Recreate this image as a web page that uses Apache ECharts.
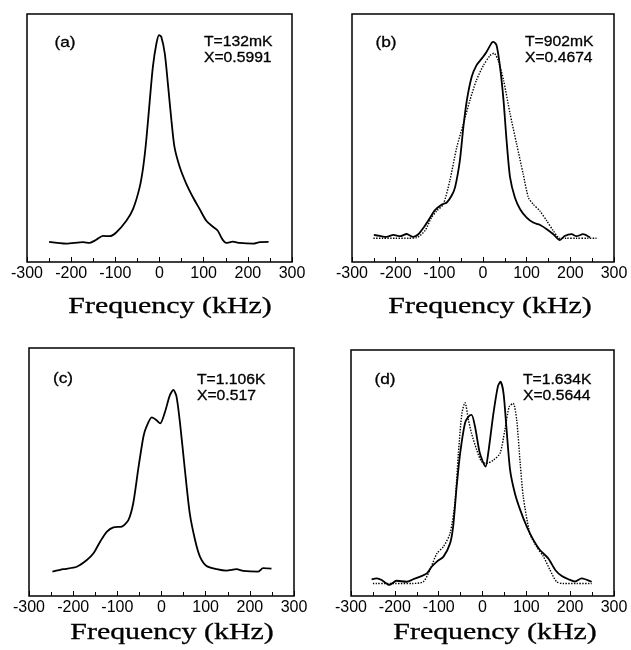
<!DOCTYPE html>
<html>
<head>
<meta charset="utf-8">
<script src="https://cdn.jsdelivr.net/npm/echarts@6/dist/echarts.min.js"></script>
<style>
  html, body { margin: 0; padding: 0; background: #fff; }
  #spectra { width: 631px; height: 650px; }
</style>
</head>
<body>
<div id="spectra"></div>
<script>
// (a) T=132mK
const freqA = [-250, -211, -173, -158, -143, -128, -113, -98, -75, -60, -45, -37, -30, -22, -15, -7, -1, 4, 12, 19, 27, 34, 46, 61, 76, 91, 106, 121, 132, 140, 145, 151, 166, 181, 212, 227, 247]
const solidA = [8.1, 7.4, 8.0, 7.7, 9.0, 10.5, 10.4, 11.9, 16.6, 21.3, 30.1, 38.2, 49, 65.2, 78.7, 88.1, 91.5, 90.8, 84, 71.9, 57.1, 46.3, 38.2, 31.4, 26, 21.3, 16.6, 14.2, 12.6, 9.9, 8.5, 7.7, 8.2, 7.7, 7.4, 8.0, 8.1]

// (b) T=902mK
const freqB = [-250, -236, -221, -205, -190, -175, -160, -148, -133, -121, -110, -95, -83, -72, -64, -53, -45, -37, -26, -15, -3, 8, 20, 24, 31, 39, 47, 54, 62, 73, 85, 100, 115, 130, 146, 161, 176, 187, 203, 214, 229, 245]
const solidB = [10.9, 10.5, 10.1, 10.9, 10.4, 11.3, 10.1, 11.2, 14.6, 17.9, 20.9, 23.1, 24.0, 26.7, 30.1, 40.9, 54.4, 65.2, 74.6, 79.3, 82, 84.7, 88.4, 88.8, 87.4, 78.7, 65.2, 49, 34.1, 26, 21.3, 17.9, 15.9, 15, 13.2, 11.2, 8.8, 10.5, 11.2, 10.4, 11.2, 9.9]
const freqBDot = [-251, -230, -200, -170, -152, -133, -118, -106, -91, -76, -60, -45, -30, -15, 1, 16, 25, 35, 47, 62, 77, 92, 104, 115, 130, 146, 161, 176, 191, 214, 240, 260]
const dottedB = [9.6, 9.6, 9.6, 9.6, 9.8, 12.6, 17.9, 20.6, 23.3, 32.8, 46.3, 55.7, 65.2, 73.3, 79.3, 83.2, 84.2, 81.2, 73.3, 59.8, 47.6, 35.5, 26, 23.3, 20.6, 16.6, 12.6, 9.6, 9.6, 9.6, 9.6, 9.6]

// (c) T=1.106K
const freqC = [-247, -222, -192, -169, -154, -139, -124, -109, -90, -75, -64, -53, -41, -34, -22, -12, -3, 8, 19, 27, 34, 42, 53, 64, 76, 87, 102, 125, 147, 170, 185, 219, 230, 249]
const solidC = [9.8, 10.8, 11.8, 14.5, 17.2, 21.9, 25.9, 27.7, 28, 30.6, 37.4, 50.8, 64.2, 68.3, 72, 71, 69.6, 74.3, 81, 83.1, 80.4, 69.6, 50.8, 33.3, 22.6, 15.9, 12.1, 10.8, 10.2, 10.8, 10.1, 9.8, 11.2, 11.0]

// (d) T=1.634K
const freqD = [-253, -241, -230, -213, -196, -173, -158, -142, -127, -116, -104, -89, -74, -67, -59, -51, -40, -32, -25, -17, -6, 7, 13, 25, 35, 41, 48, 55, 63, 74, 86, 101, 116, 131, 150, 166, 181, 196, 211, 226, 249]
const solidD = [6.8, 7.2, 6.5, 4.5, 6.2, 5.8, 6.8, 7.9, 9.2, 11.9, 14, 16, 21.4, 28.2, 44.4, 58, 70.2, 72.9, 73.6, 68.8, 58, 52.6, 58, 74.3, 85.1, 87.1, 82.4, 67.5, 51.2, 41.7, 35, 28.2, 22.8, 18.7, 15.3, 10.6, 8.1, 6.8, 5.9, 7.2, 5.8]
const freqDDot = [-250, -200, -160, -135, -120, -104, -89, -74, -63, -55, -47, -40, -32, -25, -13, -2, 10, 25, 40, 51, 61, 70, 78, 86, 93, 108, 123, 139, 154, 169, 184, 215, 249]
const dottedD = [5.1, 5.1, 5.1, 5.8, 10.6, 17.3, 20.1, 25.5, 37.7, 58, 74.3, 78.6, 71.5, 66.1, 59.3, 54.6, 53.9, 55.3, 58, 67.5, 77, 78.3, 71.5, 53.9, 40.4, 25.5, 20.1, 16, 10.6, 5.8, 5.1, 5.1, 5.1]

const panelLabels = ['(a)', '(b)', '(c)', '(d)']
const tempLabels = ['T=132mK', 'T=902mK', 'T=1.106K', 'T=1.634K']
const xLabels = ['X=0.5991', 'X=0.4674', 'X=0.517', 'X=0.5644']
const axisTitle = 'Frequency (kHz)'

const chart = echarts.init(document.getElementById('spectra'))

// panel boxes, pixels
const grids = [
  { left: 27, top: 14, width: 265, height: 248 },
  { left: 352, top: 14, width: 262, height: 248 },
  { left: 29, top: 348, width: 265, height: 248 },
  { left: 351, top: 350, width: 263, height: 246 }
]
// text positions
const tagPos = [[65, 43], [386, 43], [63, 379], [385, 380]]
const infoPos = [[204, 42], [525, 42], [197, 380], [523, 380]]
const titlePos = [[170, 307], [490, 307], [172, 633], [495, 633]]

function zip(xs, ys) {
  return xs.map((x, i) => [x, ys[i]])
}

function lineSeries(idx, xs, ys, dotted) {
  return {
    type: 'line',
    xAxisIndex: idx,
    yAxisIndex: idx,
    showSymbol: false,
    smooth: 0.25,
    silent: true,
    lineStyle: {
      color: '#000',
      width: dotted ? 1.4 : 1.8,
      type: dotted ? 'dotted' : 'solid'
    },
    data: zip(xs, ys)
  }
}

function text(x, y, str, font, align, sx) {
  return {
    type: 'text',
    x: x,
    y: y,
    scaleX: sx,
    style: {
      text: str,
      font: font,
      fill: '#000',
      stroke: '#000',
      lineWidth: 0.3,
      textAlign: align,
      textVerticalAlign: 'middle'
    }
  }
}

let graphics = []
for (let i = 0; i < 4; i++) {
  graphics.push(text(tagPos[i][0], tagPos[i][1], panelLabels[i], '15px "Liberation Sans"', 'center', 1.15))
  graphics.push(text(infoPos[i][0], infoPos[i][1], tempLabels[i], '14px "Liberation Sans"', 'left', 1.12))
  graphics.push(text(infoPos[i][0], infoPos[i][1] + 16, xLabels[i], '14px "Liberation Sans"', 'left', 1.12))
  graphics.push(text(titlePos[i][0], titlePos[i][1], axisTitle, '23px "Liberation Serif"', 'center', 1.3))
}

let option = {
  animation: false,
  backgroundColor: '#fff',
  grid: grids.map(g => Object.assign({
    show: true,
    borderColor: '#000',
    borderWidth: 1.5,
    backgroundColor: 'transparent'
  }, g)),
  xAxis: grids.map((g, i) => ({
    type: 'value',
    gridIndex: i,
    min: -300,
    max: 300,
    interval: 100,
    axisLine: { show: false },
    axisTick: {
      show: true,
      inside: true,
      length: 5,
      lineStyle: { color: '#000', width: 1 }
    },
    minorTick: {
      show: true,
      splitNumber: 2,
      length: 4,
      lineStyle: { color: '#000', width: 1 }
    },
    splitLine: { show: false },
    axisLabel: {
      color: '#000',
      fontSize: 16,
      fontFamily: 'Liberation Sans',
      margin: 4
    }
  })),
  yAxis: grids.map((g, i) => ({
    type: 'value',
    gridIndex: i,
    min: 0,
    max: 100,
    axisLine: { show: false },
    axisTick: { show: false },
    axisLabel: { show: false },
    splitLine: { show: false }
  })),
  graphic: graphics,
  series: [
    lineSeries(0, freqA, solidA, false),
    lineSeries(1, freqBDot, dottedB, true),
    lineSeries(1, freqB, solidB, false),
    lineSeries(2, freqC, solidC, false),
    lineSeries(3, freqDDot, dottedD, true),
    lineSeries(3, freqD, solidD, false)
  ]
}
chart.setOption(option)
</script>
</body>
</html>
